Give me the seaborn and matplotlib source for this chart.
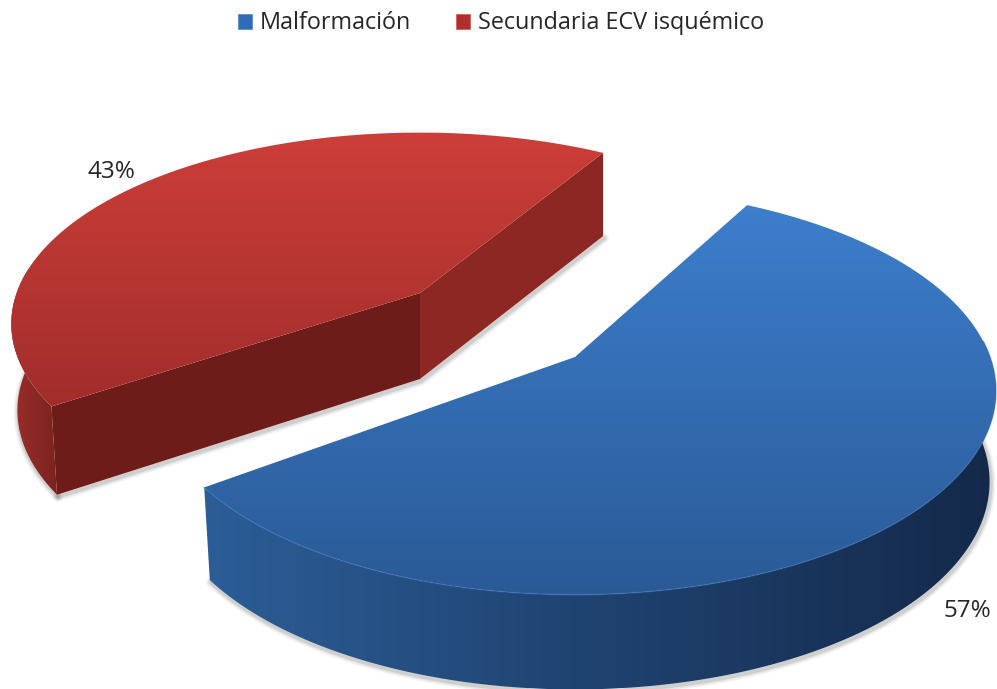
import numpy as np
import matplotlib
matplotlib.use('Agg')
import matplotlib.pyplot as plt
from matplotlib.colors import LinearSegmentedColormap
from matplotlib.patches import Patch, Polygon
import seaborn as sns

labels = ['Malformación', 'Secundaria ECV isquémico']
values = [57, 43]
pct_labels = ['57%', '43%']

sns.set_theme(style='white')
plt.rcParams['font.family'] = ['Open Sans', 'DejaVu Sans']

fig = plt.figure(figsize=(9.97, 6.89), dpi=100)
ax = fig.add_axes([0, 0, 1, 1])

START = 61.6
KEEP = 0.985
TILT = 0.167


def project(theta, cx, cy, a, b, depth=0.0, r=1.0):
    # unit circle to screen, nearer side is drawn bigger
    u = r * np.cos(np.radians(theta))
    v = r * np.sin(np.radians(theta))
    w = 1 + TILT * v
    x, y = a * u / w, -b * v / w
    if depth:
        x, y = x * KEEP, y * 1.02 + depth
    return np.column_stack([cx + x, cy + y])


def fill(pts, c1, c2, vertical=True, z=1):
    poly = Polygon(pts, closed=True, fc='none', ec='none', transform=ax.transData)
    ax.add_patch(poly)
    cmap = LinearSegmentedColormap.from_list('g', [c1, c2] if isinstance(c1, str) else list(c1) + [c2])
    grad = np.linspace(0, 1, 256)
    grad = grad[:, None] if vertical else grad[None, :]
    x0, y0 = pts.min(axis=0)
    x1, y1 = pts.max(axis=0)
    im = ax.imshow(grad, cmap=cmap, extent=[x0, x1, y1, y0], aspect='auto', zorder=z,
                   interpolation='bilinear')
    im.set_clip_path(poly)


def shadow(pts):
    for lw, al in [(7, 0.05), (5, 0.07), (3, 0.12)]:
        ax.plot(pts[:, 0] + 1, pts[:, 1] + 2, color='#303030', lw=lw, alpha=al, zorder=0,
                solid_capstyle='round')


frac = np.array(values) / sum(values) * 360

# blue slice, runs clockwise from the top
b_t = np.linspace(START, START - frac[0], 300)
bx, by, ba, bb, bd = 575, 357, 415, 198, 90
b_top = np.vstack([[bx, by], project(b_t, bx, by, ba, bb)])
b_vis = b_t[b_t < 5]
b_up = project(b_vis, bx, by, ba, bb)
b_low = project(b_vis, bx, by, ba, bb, depth=bd)
shadow(b_low)
b_wall = np.vstack([b_up, b_low[::-1]])
fill(b_wall, ['#2c5d97', '#1f426f'], '#14294a', vertical=False, z=1)
fill(b_top, '#3d7ecd', '#2a5a96', z=2)
ax.plot(b_up[:, 0], b_up[:, 1], color='#3a70b5', lw=1.2, alpha=0.5, zorder=3)

# red slice, pulled up and left
r_start = 58.9
r_t = np.linspace(r_start, r_start + frac[1], 300)
rx, ry, ra, rb, rd, rr = 420, 293, 418, 193, 86, 0.965
r_top = np.vstack([[rx, ry], project(r_t, rx, ry, ra, rb, r=rr)])
r_vis = r_t[r_t > 172]
r_up = project(r_vis, rx, ry, ra, rb, r=rr)
r_low = project(r_vis, rx, ry, ra, rb, depth=rd, r=rr)
shadow(r_low)
apex_up = np.array([rx, ry])
apex_low = apex_up + [0, rd]
far_up = project(np.array([r_t[0]]), rx, ry, ra, rb, r=rr)[0]
far_low = project(np.array([r_t[0]]), rx, ry, ra, rb, depth=rd, r=rr)[0]
far_low[0] = far_up[0]
near_up = r_up[-1]
near_low = r_low[-1]
shadow(np.array([near_low, apex_low, far_low]))
fill(np.vstack([r_up, r_low[::-1]]), '#9a2e29', '#7c231f', vertical=False, z=1)
fill(np.array([apex_up, far_up, far_low, apex_low]), '#8d2723', '#8d2723', z=1)
fill(np.array([apex_up, near_up, near_low, apex_low]), '#6e1c1a', '#6e1c1a', z=1.5)
fill(r_top, '#cd3e39', '#a12d2b', z=2)

ax.text(111, 172, pct_labels[1], fontsize=17.5, color='#262626', ha='center', va='center')
ax.text(967, 611, pct_labels[0], fontsize=17.5, color='#262626', ha='center', va='center')

handles = [Patch(fc='#2f6cb5', ec='#5b8fd0', lw=0.6), Patch(fc='#b02e2b', ec='#d9605a', lw=0.6)]
ax.legend(handles, labels, loc='upper center', bbox_to_anchor=(0.5025, 1.014), ncol=2, frameon=False,
          fontsize=16.8, handlelength=0.62, handleheight=0.62, handletextpad=0.35, columnspacing=1.9,
          labelcolor='#262626')

ax.set_xlim(0, 997)
ax.set_ylim(689, 0)
ax.axis('off')
fig.savefig('out.png', dpi=100)
